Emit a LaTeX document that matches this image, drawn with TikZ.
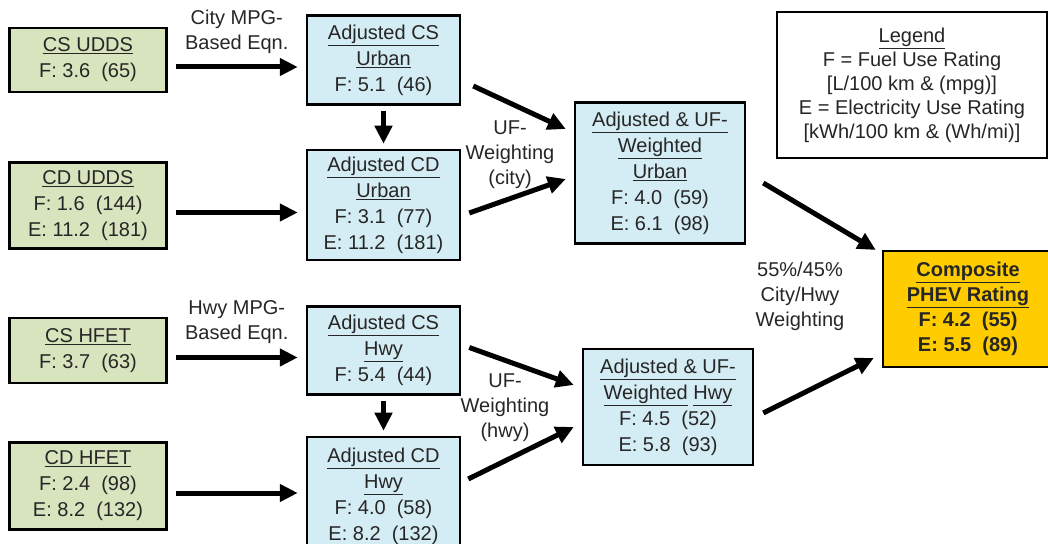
\documentclass[tikz,border=0pt]{standalone}
\usepackage{fontspec}
\setmainfont{Liberation Sans}
\usepackage{tikz}
\usetikzlibrary{arrows.meta, positioning, calc}
\definecolor{testgreen}{RGB}{215,228,189}
\definecolor{adjblue}{RGB}{212,236,243}
\definecolor{compgold}{RGB}{255,204,0}
\definecolor{textgray}{RGB}{38,38,38}
\newcommand{\Head}[1]{\underline{#1}}
\tikzset{
    box/.style={draw, line width=2.5pt, align=center, inner sep=0pt, text=textgray},
    test/.style={box, fill=testgreen, minimum width=157pt},
    adj/.style={box, fill=adjblue, minimum width=153pt},
    flow/.style={-{Triangle[length=18pt, width=17pt]}, line width=5pt},
    note/.style={align=center, text=textgray, font=\fontsize{20}{25}\selectfont},
}

\begin{document}
\begin{tikzpicture}[x=1pt, y=1pt, font=\fontsize{20}{26}\selectfont]
    \useasboundingbox (0,0) rectangle (1048,543);

    % test results
    \node[test, minimum height=64pt] (csudds) at (88,483) {\Head{CS UDDS}\\F: 3.6~ (65)};
    \node[test, minimum height=86pt, below=68pt of csudds] (cdudds) {\Head{CD UDDS}\\F: 1.6~ (144)\\E: 11.2~ (181)};
    \node[test, minimum height=65pt, below=67pt of cdudds] (cshfet) {\Head{CS HFET}\\F: 3.7~ (63)};
    \node[test, minimum height=87pt, below=57pt of cshfet] (cdhfet) {\Head{CD HFET}\\F: 2.4~ (98)\\E: 8.2~ (132)};

    % adjusted values
    \node[adj, minimum height=89pt, right=138pt of csudds] (adjcsurban) {\Head{Adjusted CS}\\\Head{Urban}\\F: 5.1~ (46)};
    \node[adj, minimum height=110pt, below=43pt of adjcsurban] (adjcdurban) {\Head{Adjusted CD}\\\Head{Urban}\\F: 3.1~ (77)\\E: 11.2~ (181)};
    \node[adj, minimum height=88pt, right=138pt of cshfet] (adjcshwy) {\Head{Adjusted CS}\\\Head{Hwy}\\F: 5.4~ (44)};
    \node[adj, minimum height=118pt, below=40pt of adjcshwy, anchor=north] (adjcdhwy) {\Head{Adjusted CD}\\\Head{Hwy}\\F: 4.0~ (58)\\E: 8.2~ (132)};

    % UF-weighted values
    \node[box, fill=adjblue, minimum width=170pt, minimum height=141pt] (ufurban) at (660,370) {\Head{Adjusted \& UF-}\\\Head{Weighted}\\\Head{Urban}\\F: 4.0~ (59)\\E: 6.1~ (98)};
    \node[box, fill=adjblue, minimum width=170pt, minimum height=116pt] (ufhwy) at (668,136) {\Head{Adjusted \& UF-}\\\Head{Weighted} \Head{Hwy}\\F: 4.5~ (52)\\E: 5.8~ (93)};

    \node[box, fill=compgold, minimum width=170pt, minimum height=116pt, font=\fontsize{20}{25}\selectfont\bfseries] (composite) at (968,234) {\Head{Composite}\\\Head{PHEV Rating}\\F: 4.2~ (55)\\E: 5.5~ (89)};

    \node[box, fill=white, minimum width=270pt, minimum height=146pt, font=\fontsize{20}{24}\selectfont] (legend) at (912,458) {\Head{Legend}\\F = Fuel Use Rating\\{}[L/100 km \& (mpg)]\\E = Electricity Use Rating\\{}[kWh/100 km \& (Wh/mi)]};

    % connectors
    \draw[flow, shorten <=8pt, shorten >=8pt] ($(csudds.east)+(0,-7)$) -- ($(csudds.east -| adjcsurban.west)+(0,-7)$)
        node[midway, above=8pt, note] {City MPG-\\Based Eqn.};
    \draw[flow, shorten <=8pt, shorten >=8pt] ($(cdudds.east)+(0,-7)$) -- ($(cdudds.east -| adjcdurban.west)+(0,-7)$);
    \draw[flow, shorten <=8pt, shorten >=8pt] ($(cshfet.east)+(0,-7)$) -- ($(cshfet.east -| adjcshwy.west)+(0,-7)$)
        node[midway, above=8pt, note] {Hwy MPG-\\Based Eqn.};
    \draw[flow, shorten <=8pt, shorten >=8pt] ($(cdhfet.east)+(0,-7)$) -- ($(cdhfet.east -| adjcdhwy.west)+(0,-7)$);

    \draw[flow, shorten <=5pt, shorten >=5pt] (adjcsurban.south) -- (adjcdurban.north);
    \draw[flow, shorten <=5pt, shorten >=5pt] (adjcshwy.south) -- (adjcdhwy.north);

    \draw[flow] ([shift={(12,-26)}]adjcsurban.east) -- ([shift={(-8,44)}]ufurban.west);
    \draw[flow] ([shift={(8,-8)}]adjcdurban.east) -- ([shift={(-8,-6)}]ufurban.west);
    \draw[flow] ([shift={(8,3)}]adjcshwy.east) -- ([shift={(-8,22)}]ufhwy.west);
    \draw[flow] ([shift={(7,17)}]adjcdhwy.east) -- ([shift={(-8,-20)}]ufhwy.west);

    \draw[flow] ([shift={(17,-10)}]ufurban.east) -- ([shift={(-6,59)}]composite.west);
    \draw[flow] ([shift={(9,-6)}]ufhwy.east) -- ([shift={(-8,-49)}]composite.west);

    % weighting labels
    \node[note] (ufcity) at (510,388) {UF-\\Weighting\\(city)};
    \node[note] (ufhwylbl) at (505,135) {UF-\\Weighting\\(hwy)};
    \node[note] (split) at (800,247) {55\%/45\%\\City/Hwy\\Weighting};
\end{tikzpicture}
\end{document}
